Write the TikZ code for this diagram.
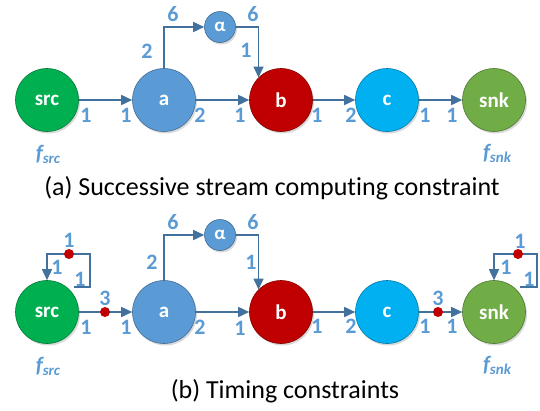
\documentclass[tikz,border=0pt]{standalone}
\usepackage{fontspec}
\setmainfont{Carlito}[Ligatures=NoCommon]
\usetikzlibrary{arrows.meta,shadows}

\definecolor{srcgreen}{HTML}{00B050}
\definecolor{snkgreen}{HTML}{70AD47}
\definecolor{actblue}{HTML}{5B9BD5}
\definecolor{actred}{HTML}{C00000}
\definecolor{actcyan}{HTML}{00B0F0}
\definecolor{chanblue}{HTML}{41719C}
\definecolor{rateblue}{HTML}{5B9BD5}
\definecolor{tokred}{HTML}{C00000}

\begin{document}
\begin{tikzpicture}[x=1pt, y=-1pt,
    actor/.style={circle, minimum size=63pt, inner sep=0pt, fill=#1,
        draw=#1!70!black, line width=0.6pt, text=white,
        font=\fontsize{21}{21}\selectfont\bfseries,
        drop shadow={opacity=0.3, shadow xshift=1.5pt, shadow yshift=-2pt}},
    small/.style={minimum size=31pt, font=\fontsize{19}{19}\selectfont\bfseries},
    chan/.style={draw=chanblue, line width=1.6pt, -{Triangle[length=11pt, width=10pt]}},
    rate/.style={text=rateblue, inner sep=0pt, font=\fontsize{22}{22}\selectfont\bfseries},
    tok/.style={circle, fill=tokred, minimum size=10pt, inner sep=0pt},
    fname/.style={text=rateblue, inner sep=0pt, font=\fontsize{22}{22}\selectfont\bfseries\itshape},
    caption/.style={inner sep=0pt, font=\fontsize{26}{26}\selectfont}]

    \useasboundingbox (0,0) rectangle (540,410);

    % --- (a) ---
    \node[actor=srcgreen] (src) at (47,100) {src};
    \node[actor=actblue]  (a)   at (164,100) {a};
    \node[actor=actred]   (b)   at (281,100) {b};
    \node[actor=actcyan]  (c)   at (387,100) {c};
    \node[actor=snkgreen] (snk) at (494,100) {snk};
    \node[actor=actblue, small] (al) at (220,27) {α};

    \draw[chan] (src) -- (a);
    \draw[chan] (a) -- (b);
    \draw[chan] (b) -- (c);
    \draw[chan] (c) -- (snk);
    \draw[chan] (a.north) |- (al.west);
    \draw[chan] (al.east) -| (b.north west);

    % rates
    \foreach \x/\y/\t [count=\i] in {86/115/1, 126/115/1, 200/115/2, 240/115/1,
            317/115/1, 351/115/2, 425/115/1, 452/115/1,
            147/51/2, 173/14/6, 253/14/6, 246/50/1} {
        \node[rate] (ra\i) at (\x,\y) {\t};
    }

    \node[fname] (fsrc) at (48,154) {f\raisebox{-3pt}{\fontsize{15}{15}\selectfont src}};
    \node[fname] (fsnk) at (497,153) {f\raisebox{-3pt}{\fontsize{15}{15}\selectfont snk}};

    \node[caption] (capa) at (272,188) {(a) Successive stream computing constraint};

    % --- (b) ---
    \node[actor=srcgreen] (src2) at (47,312) {src};
    \node[actor=actblue]  (a2)   at (164,312) {a};
    \node[actor=actred]   (b2)   at (281,312) {b};
    \node[actor=actcyan]  (c2)   at (387,312) {c};
    \node[actor=snkgreen] (snk2) at (494,312) {snk};
    \node[actor=actblue, small] (al2) at (220,235) {α};

    \draw[chan] (src2) -- (a2);
    \draw[chan] (a2) -- (b2);
    \draw[chan] (b2) -- (c2);
    \draw[chan] (c2) -- (snk2);
    \draw[chan] (a2.north) |- (al2.west);
    \draw[chan] (al2.east) -| (b2.north west);

    % self loops
    \coordinate (sl0) at (74,287);
    \coordinate (sl1) at (90,254);
    \draw[chan] (sl0) -| (sl1) -| (src2.north);
    \coordinate (kl0) at (520,287);
    \coordinate (kl1) at (537,254);
    \draw[chan] (kl0) -| (kl1) -| (snk2.north);

    % initial tokens
    \node[tok] (t1) at (69,254) {};
    \node[tok] (t2) at (105,312) {};
    \node[tok] (t3) at (438,312) {};
    \node[tok] (t4) at (518,254) {};

    \foreach \x/\y/\t [count=\i] in {86/327/1, 126/327/1, 200/327/2, 240/328/1,
            317/326/1, 351/326/2, 425/326/1, 452/326/1,
            152/262/2, 173/222/6, 253/222/6, 251/262/1,
            105/298/3, 438/298/3,
            69/240/1, 57/267/1, 80/279/1,
            520/241/1, 506/267/1, 529/279/1} {
        \node[rate] (rb\i) at (\x,\y) {\t};
    }

    \node[fname] (fsrc2) at (48,366) {f\raisebox{-3pt}{\fontsize{15}{15}\selectfont src}};
    \node[fname] (fsnk2) at (497,365) {f\raisebox{-3pt}{\fontsize{15}{15}\selectfont snk}};

    \node[caption] (capb) at (285,391) {(b) Timing constraints};

\end{tikzpicture}
\end{document}
